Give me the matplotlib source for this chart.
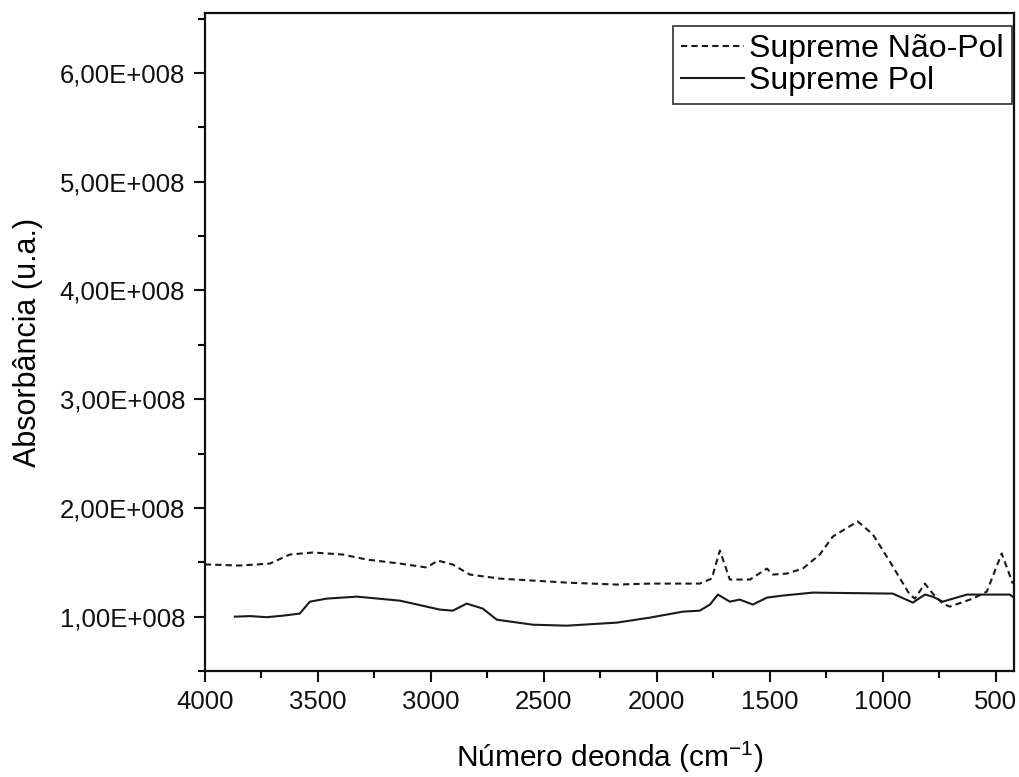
import numpy as np
import matplotlib
matplotlib.use('Agg')
from matplotlib import pyplot as plt
from matplotlib.ticker import MultipleLocator, FuncFormatter

plt.rcParams['font.family'] = ['Liberation Sans', 'DejaVu Sans']
plt.rcParams['mathtext.default'] = 'regular'

# Supreme Nao-Pol (dashed)
x_nao = [4000, 3978, 3845, 3712, 3624, 3522, 3389, 3283, 3137, 3018, 2969, 2903, 2827,
         2695, 2398, 2177, 2031, 1810, 1757, 1721, 1677, 1588, 1513, 1487, 1425, 1354,
         1279, 1221, 1111, 1044, 969, 881, 858, 814, 779, 735, 704, 602, 540, 474, 425]
y_nao = [1.48, 1.479, 1.470, 1.488, 1.571, 1.590, 1.571, 1.525, 1.488, 1.452, 1.516, 1.479, 1.387,
         1.350, 1.313, 1.295, 1.304, 1.304, 1.350, 1.608, 1.341, 1.341, 1.442, 1.387, 1.396, 1.442,
         1.571, 1.737, 1.876, 1.756, 1.507, 1.203, 1.166, 1.304, 1.212, 1.120, 1.092, 1.166, 1.230,
         1.581, 1.304]

# Supreme Pol (solid)
x_pol = [3867, 3800, 3726, 3650, 3580, 3535, 3460, 3327, 3137, 2960, 2903, 2841, 2770, 2708,
         2549, 2398, 2177, 2031, 1885, 1810, 1765, 1730, 1677, 1633, 1575, 1513, 1442, 1310,
         956, 867, 814, 779, 735, 628, 438, 420]
y_pol = [1.00, 1.005, 0.995, 1.01, 1.028, 1.138, 1.166, 1.184, 1.147, 1.065, 1.055, 1.120, 1.074, 0.972,
         0.926, 0.917, 0.945, 0.991, 1.046, 1.055, 1.111, 1.203, 1.138, 1.157, 1.111, 1.175, 1.194, 1.221,
         1.212, 1.129, 1.203, 1.184, 1.138, 1.203, 1.203, 1.175]

labels = ['Supreme Não-Pol', 'Supreme Pol']

fig = plt.figure(figsize=(10.19, 7.77), dpi=100)
ax = fig.add_axes([0.201, 0.1364, 0.794, 0.8467])

ax.plot(x_nao, np.array(y_nao) * 1e8, color='#1a1a1a', lw=1.5, ls=(0, (3, 2)), label=labels[0])
ax.plot(x_pol, np.array(y_pol) * 1e8, color='#1a1a1a', lw=1.5, ls='-', label=labels[1])

ax.set_xlim(4000, 420)
ax.set_ylim(0.5e8, 6.55e8)

ax.xaxis.set_major_locator(MultipleLocator(500))
ax.xaxis.set_minor_locator(MultipleLocator(250))
ax.yaxis.set_major_locator(MultipleLocator(1e8))
ax.yaxis.set_minor_locator(MultipleLocator(0.5e8))

def sci_fmt(v, pos):
    if v <= 0:
        return ''
    e = int(np.floor(np.log10(v)))
    m = v / 10 ** e
    return ('%.2f' % m).replace('.', ',') + 'E+%03d' % e

ax.yaxis.set_major_formatter(FuncFormatter(sci_fmt))

ax.tick_params(which='major', direction='out', length=8, width=1.5, labelsize=18.5, pad=6,
               top=False, right=False, colors='#111111')
ax.tick_params(which='minor', direction='out', length=5, width=1.5, top=False, right=False)

for s in ax.spines.values():
    s.set_linewidth(1.6)
    s.set_color('#111111')

ax.set_xlabel('Número deonda (cm$^{-1}$)', fontsize=21.5, labelpad=18)
ax.set_ylabel('Absorbância (u.a.)', fontsize=22, labelpad=12)

leg = ax.legend(loc='upper right', bbox_to_anchor=(0.9975, 0.98), fontsize=23, frameon=True,
                fancybox=False, edgecolor='#111111', handlelength=2.0, handletextpad=0.15,
                borderpad=0.25, labelspacing=0.05, borderaxespad=0.0)
leg.get_frame().set_linewidth(1.3)

fig.savefig('out.png', dpi=100)
